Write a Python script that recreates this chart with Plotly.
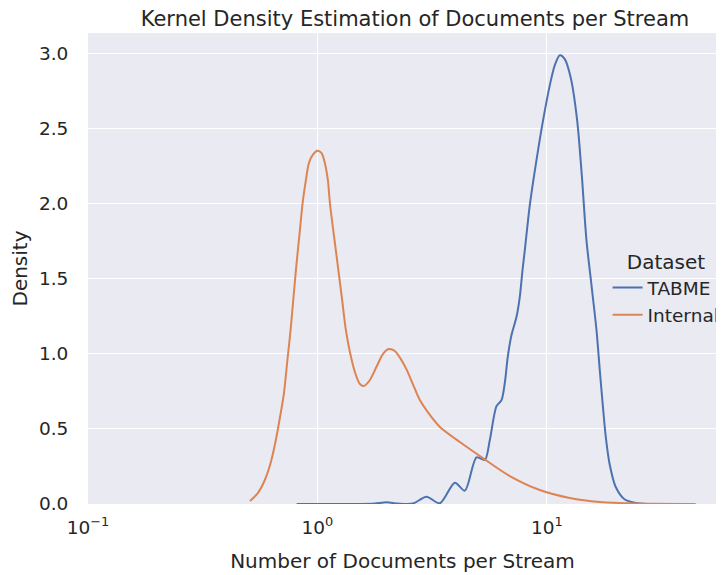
import plotly.graph_objects as go

# Data (x: documents per stream, y: density)
tabme_x = [0.812, 1.532, 1.780, 2.002, 2.243, 2.607, 2.991, 3.419, 3.973, 4.393,
           4.940, 5.369, 5.645, 6.037, 6.347, 6.561, 6.761, 7.016, 7.379, 7.627,
           7.837, 8.020, 8.433, 9.045, 9.636, 10.31, 10.84, 11.40, 11.98, 12.73,
           13.56, 14.21, 14.89, 15.66, 16.47, 17.02, 17.54, 18.08, 18.82, 19.98,
           21.88, 25.43, 33.34]
tabme_y = [0.0, 0.0, 0.003, 0.011, 0.003, 0.003, 0.049, 0.005, 0.142, 0.089,
           0.311, 0.293, 0.426, 0.652, 0.692, 0.806, 0.981, 1.125, 1.247, 1.380,
           1.558, 1.691, 1.991, 2.304, 2.557, 2.790, 2.923, 2.989, 2.963, 2.836,
           2.557, 2.190, 1.758, 1.458, 1.158, 0.892, 0.659, 0.446, 0.260, 0.113,
           0.030, 0.003, 0.0]

internal_x = [0.508, 0.550, 0.590, 0.627, 0.659, 0.686, 0.715, 0.740, 0.764, 0.806,
              0.839, 0.862, 0.891, 0.918, 0.956, 1.0, 1.043, 1.078, 1.111, 1.134,
              1.180, 1.228, 1.279, 1.331, 1.386, 1.457, 1.532, 1.595, 1.694, 1.817,
              1.930, 2.049, 2.176, 2.311, 2.455, 2.607, 2.797, 3.092, 3.419, 4.178,
              5.262, 6.901, 9.322, 12.59, 17.02, 25.43, 44.6]
internal_y = [0.020, 0.073, 0.160, 0.280, 0.426, 0.573, 0.739, 0.959, 1.158, 1.558,
              1.824, 2.004, 2.157, 2.270, 2.327, 2.352, 2.337, 2.270, 2.157, 2.004,
              1.791, 1.585, 1.372, 1.158, 1.012, 0.879, 0.799, 0.786, 0.826, 0.919,
              0.999, 1.032, 1.019, 0.965, 0.892, 0.799, 0.692, 0.593, 0.513, 0.413,
              0.306, 0.186, 0.093, 0.040, 0.013, 0.003, 0.0]

x_tick_vals = [0.1, 1, 10]
x_tick_text = ["10<sup>−1</sup>", "10<sup>0</sup>", "10<sup>1</sup>"]
y_tick_vals = [0.0, 0.5, 1.0, 1.5, 2.0, 2.5, 3.0]

FONT = "DejaVu Sans"
TXT = "#262626"
W, H = 716, 567  # page has an 8px body margin; plot area placed to match reference

fig = go.Figure()
fig.add_trace(go.Scatter(x=tabme_x, y=tabme_y, mode="lines", name="TABME",
                         line=dict(color="#4C72B0", width=2, shape="spline", smoothing=0.8)))
fig.add_trace(go.Scatter(x=internal_x, y=internal_y, mode="lines", name="Internal",
                         line=dict(color="#DD8452", width=2, shape="spline", smoothing=0.8)))

fig.update_layout(
    width=W, height=H,
    margin=dict(l=80, r=6.7, t=25, b=71, autoexpand=False),
    paper_bgcolor="white",
    plot_bgcolor="#EAEAF2",
    font=dict(family=FONT, color=TXT, size=18.5),
    title=dict(text="Kernel Density Estimation of Documents per Stream",
               x=407 / W, xref="container", xanchor="center",
               y=1 - 10.5 / H, yref="container", yanchor="middle",
               font=dict(size=21, color=TXT)),
    showlegend=True,
    legend=dict(x=0.826, y=0.554, xanchor="left", yanchor="top",
                bgcolor="rgba(0,0,0,0)", borderwidth=0,
                font=dict(size=18.5, color=TXT),
                title=dict(text="Dataset", side="top center", font=dict(size=20, color=TXT))),
)
fig.update_xaxes(type="log", range=[-1, 1.742], tickvals=x_tick_vals, ticktext=x_tick_text,
                 showgrid=True, gridcolor="white", gridwidth=1.3, zeroline=False,
                 showline=False, ticks="outside", ticklen=7, tickcolor="rgba(0,0,0,0)",
                 automargin=False, tickfont=dict(size=18.5, color=TXT),
                 title=dict(text="Number of Documents per Stream", font=dict(size=20, color=TXT),
                            standoff=16))
fig.update_yaxes(range=[0, 3.137], tickvals=y_tick_vals, tickformat=".1f",
                 showgrid=True, gridcolor="white", gridwidth=1.3, zeroline=False,
                 showline=False, ticks="outside", ticklen=15, tickcolor="rgba(0,0,0,0)",
                 automargin=False, tickfont=dict(size=18.5, color=TXT),
                 title=dict(text="Density", font=dict(size=20, color=TXT), standoff=12))

fig.write_html("out.html")
